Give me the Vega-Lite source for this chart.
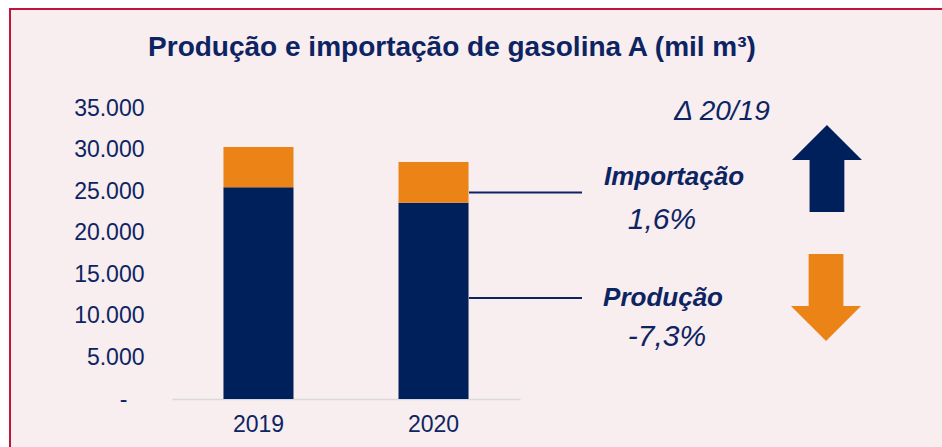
{
  "$schema": "https://vega.github.io/schema/vega-lite/v6.json",
  "width": 934,
  "height": 440,
  "autosize": "none",
  "padding": {"left": 10, "top": 9, "right": -2, "bottom": -2},
  "background": "#ffffff",
  "config": {
    "view": {"fill": "#F8EDEF", "stroke": "#C0143C", "strokeWidth": 2},
    "font": "Liberation Sans"
  },
  "title": {
    "text": "Produção e importação de gasolina A (mil m³)",
    "anchor": "middle",
    "frame": "group",
    "dx": -25,
    "offset": -75,
    "baseline": "alphabetic",
    "fontSize": 28,
    "fontWeight": "bold",
    "color": "#0D2463",
    "font": "Liberation Sans"
  },
  "data": {"values": [{}]},
  "resolve": {"scale": {"x": "independent", "y": "independent"}},
  "layer": [
    {
      "data": {"values": [
        {"ano": "2019", "tipo": "Produção", "valor": 25460},
        {"ano": "2019", "tipo": "Importação", "valor": 4850},
        {"ano": "2020", "tipo": "Produção", "valor": 23600},
        {"ano": "2020", "tipo": "Importação", "valor": 4900}
      ]},
      "mark": {"type": "bar"},
      "encoding": {
        "x": {
          "field": "ano", "type": "nominal",
          "scale": {"range": [162, 510], "paddingInner": 0.6, "paddingOuter": 0.294},
          "axis": {"title": null, "orient": "bottom", "offset": -50, "domainColor": "#D9D9D9", "domainWidth": 1.5, "ticks": false, "labelFontSize": 23, "labelColor": "#0D2463", "labelPadding": 14, "labelAngle": 0, "labelFont": "Liberation Sans"}
        },
        "y": {
          "field": "valor", "type": "quantitative", "stack": "zero",
          "scale": {"domain": [0, 35000], "range": [390, 99], "nice": false, "zero": true},
          "axis": {"title": null, "domain": false, "ticks": false, "grid": false, "offset": -162, "values": [0, 5000, 10000, 15000, 20000, 25000, 30000, 35000], "labelFontSize": 23, "labelColor": "#0D2463", "labelPadding": 28, "labelFont": "Liberation Sans", "labelExpr": "datum.value === 0 ? '-\u2800' : replace(format(datum.value, ','), ',', '.')"}
        },
        "color": {"field": "tipo", "type": "nominal", "scale": {"domain": ["Produção", "Importação"], "range": ["#00205B", "#EB8317"]}, "legend": null},
        "order": {"field": "tipo", "sort": "descending"}
      }
    },
    {
      "mark": {"type": "rule", "color": "#0D2463", "strokeWidth": 2},
      "encoding": {
        "x": {"datum": 48.83, "type": "quantitative", "scale": {"domain": [0, 100], "range": [0, 940], "nice": false}, "axis": null},
        "x2": {"datum": 60.85},
        "y": {"datum": 24840, "type": "quantitative", "scale": {"domain": [0, 35000], "range": [390, 99], "nice": false}, "axis": null}
      }
    },
    {
      "mark": {"type": "rule", "color": "#0D2463", "strokeWidth": 2},
      "encoding": {
        "x": {"datum": 48.83, "type": "quantitative", "scale": {"domain": [0, 100], "range": [0, 940], "nice": false}, "axis": null},
        "x2": {"datum": 60.85},
        "y": {"datum": 12150, "type": "quantitative", "scale": {"domain": [0, 35000], "range": [390, 99], "nice": false}, "axis": null}
      }
    },
    {
      "mark": {"type": "text", "text": "Δ 20/19", "fontStyle": "italic", "fontSize": 28, "color": "#0D2463", "align": "center", "baseline": "middle"},
      "encoding": {
        "x": {"datum": 75.74, "type": "quantitative", "scale": {"domain": [0, 100], "range": [0, 940], "nice": false}, "axis": null},
        "y": {"datum": 34520, "type": "quantitative", "scale": {"domain": [0, 35000], "range": [390, 99], "nice": false}, "axis": null}
      }
    },
    {
      "mark": {"type": "text", "text": "Importação", "fontStyle": "italic", "fontWeight": "bold", "fontSize": 26, "color": "#0D2463", "align": "center", "baseline": "middle"},
      "encoding": {
        "x": {"datum": 70.64, "type": "quantitative", "scale": {"domain": [0, 100], "range": [0, 940], "nice": false}, "axis": null},
        "y": {"datum": 26700, "type": "quantitative", "scale": {"domain": [0, 35000], "range": [390, 99], "nice": false}, "axis": null}
      }
    },
    {
      "mark": {"type": "text", "text": "1,6%", "fontStyle": "italic", "fontSize": 30, "color": "#0D2463", "align": "center", "baseline": "middle"},
      "encoding": {
        "x": {"datum": 69.36, "type": "quantitative", "scale": {"domain": [0, 100], "range": [0, 940], "nice": false}, "axis": null},
        "y": {"datum": 21530, "type": "quantitative", "scale": {"domain": [0, 35000], "range": [390, 99], "nice": false}, "axis": null}
      }
    },
    {
      "mark": {"type": "text", "text": "Produção", "fontStyle": "italic", "fontWeight": "bold", "fontSize": 26, "color": "#0D2463", "align": "center", "baseline": "middle"},
      "encoding": {
        "x": {"datum": 69.47, "type": "quantitative", "scale": {"domain": [0, 100], "range": [0, 940], "nice": false}, "axis": null},
        "y": {"datum": 12150, "type": "quantitative", "scale": {"domain": [0, 35000], "range": [390, 99], "nice": false}, "axis": null}
      }
    },
    {
      "mark": {"type": "text", "text": "-7,3%", "fontStyle": "italic", "fontSize": 30, "color": "#0D2463", "align": "center", "baseline": "middle"},
      "encoding": {
        "x": {"datum": 69.89, "type": "quantitative", "scale": {"domain": [0, 100], "range": [0, 940], "nice": false}, "axis": null},
        "y": {"datum": 7460, "type": "quantitative", "scale": {"domain": [0, 35000], "range": [390, 99], "nice": false}, "axis": null}
      }
    },
    {
      "mark": {"type": "point", "shape": "M0,-1L0.805,-0.195L0.4,-0.195L0.4,1L-0.4,1L-0.4,-0.195L-0.805,-0.195Z", "size": 7569, "filled": true, "color": "#00205B", "opacity": 1, "strokeWidth": 0},
      "encoding": {
        "x": {"datum": 86.91, "type": "quantitative", "scale": {"domain": [0, 100], "range": [0, 940], "nice": false}, "axis": null},
        "y": {"datum": 27720, "type": "quantitative", "scale": {"domain": [0, 35000], "range": [390, 99], "nice": false}, "axis": null}
      }
    },
    {
      "mark": {"type": "point", "shape": "M0,1L0.805,0.195L0.4,0.195L0.4,-1L-0.4,-1L-0.4,0.195L-0.805,0.195Z", "size": 7569, "filled": true, "color": "#EB8317", "opacity": 1, "strokeWidth": 0},
      "encoding": {
        "x": {"datum": 86.81, "type": "quantitative", "scale": {"domain": [0, 100], "range": [0, 940], "nice": false}, "axis": null},
        "y": {"datum": 12210, "type": "quantitative", "scale": {"domain": [0, 35000], "range": [390, 99], "nice": false}, "axis": null}
      }
    }
  ]
}
